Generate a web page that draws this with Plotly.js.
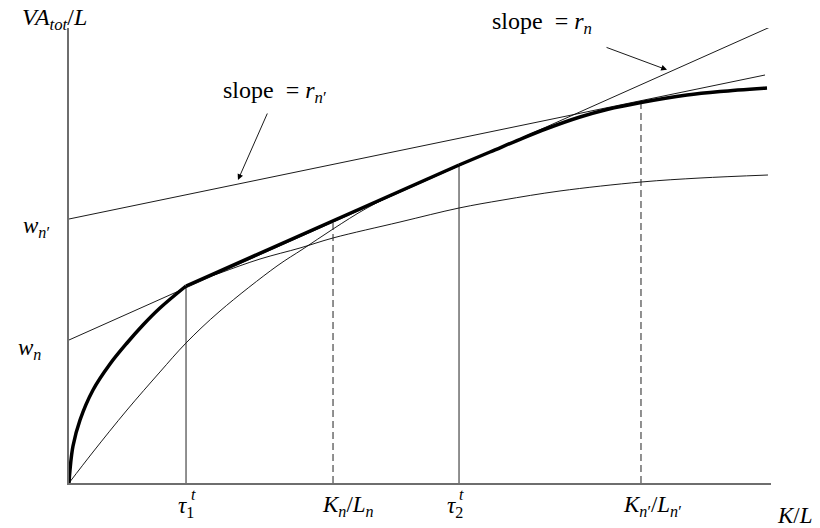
<!DOCTYPE html>
<html>
<head>
<meta charset="utf-8">
<script src="https://cdn.plot.ly/plotly-3.0.1.min.js"></script>
<style>html,body{margin:0;padding:0;background:#fff;}#chart{width:820px;height:528px;}</style>
</head>
<body>
<div id="chart"></div>
<script>
// Technology n production curve (VA/L against K/L)
const fnK = [0, 0.014, 0.057, 0.157, 0.342, 0.584, 0.826, 1.054, 1.296, 1.667, 2.151, 2.721, 3.291, 3.761, 4.715, 5.556, 6.182, 6.994, 8.148, 8.989, 9.957];
const fnV = [0, 0.286, 0.813, 1.385, 2.044, 2.615, 3.077, 3.473, 3.846, 4.330, 4.615, 4.923, 5.165, 5.385, 5.736, 6.044, 6.220, 6.418, 6.615, 6.703, 6.769];
// Technology n' production curve
const fnpK = [0, 0.342, 0.826, 1.296, 1.667, 2.151, 2.963, 3.333, 3.761, 4.245, 4.858, 5.556, 5.997, 6.467, 6.809, 7.279, 7.664, 8.148, 8.803, 9.274, 9.943];
const fnpV = [0, 0.681, 1.604, 2.440, 3.077, 3.780, 4.769, 5.143, 5.582, 6.044, 6.510, 6.989, 7.275, 7.582, 7.791, 8.044, 8.209, 8.363, 8.527, 8.604, 8.681];
// Tangent lines: intercept w_n (slope r_n) and w_n' (slope r_n')
const lineNK = [0, 10.0];
const lineNV = [3.143, 10.03];
const lineNpK = [0, 9.915];
const lineNpV = [5.802, 8.967];
// Marked capital-labour ratios
const tauK = [1.667, 5.556];          // tau1, tau2
const tauTop = [4.330, 6.989];
const ratioK = [3.761, 8.148];        // Kn/Ln, Kn'/Ln'
const ratioTop = [5.736, 8.363];

const thin = {color: '#000', width: 0.9};
const traces = [];
traces.push({x: fnK, y: fnV, mode: 'lines', line: Object.assign({shape: 'spline', smoothing: 1}, thin)});
traces.push({x: fnpK, y: fnpV, mode: 'lines', line: Object.assign({shape: 'spline', smoothing: 1}, thin)});
traces.push({x: lineNK, y: lineNV, mode: 'lines', line: thin});
traces.push({x: lineNpK, y: lineNpV, mode: 'lines', line: thin});
tauK.forEach((k, i) => traces.push({x: [k, k], y: [0, tauTop[i]], mode: 'lines', line: {color: '#222', width: 1}}));
ratioK.forEach((k, i) => traces.push({x: [k, k], y: [0, ratioTop[i]], mode: 'lines', line: {color: '#222', width: 1, dash: '7px,4px'}}));
const i1 = fnK.indexOf(tauK[0]);
const i2 = fnpK.indexOf(tauK[1]);
const thick = {color: '#000', width: 3.5};
traces.push({x: fnK.slice(0, i1 + 1), y: fnV.slice(0, i1 + 1), mode: 'lines', line: Object.assign({shape: 'spline', smoothing: 1}, thick)});
traces.push({x: [fnK[i1], fnpK[i2]], y: [fnV[i1], fnpV[i2]], mode: 'lines', line: thick});
traces.push({x: fnpK.slice(i2), y: fnpV.slice(i2), mode: 'lines', line: Object.assign({shape: 'spline', smoothing: 1}, thick)});

const X0 = 0, X1 = 10, Y0 = 0, Y1 = 10;
const px = x => (x - X0) / (X1 - X0);
const py = y => (y - Y0) / (Y1 - Y0);
const F = 'Liberation Serif, DejaVu Serif, serif';
function lab(x, y, text, size, extra) {
  return Object.assign({x: px(x), y: py(y), xref: 'paper', yref: 'paper', text: text, showarrow: false,
    font: {family: F, size: size || 23, color: '#000'}, xanchor: 'center', yanchor: 'middle'}, extra || {});
}
const annotations = [
  lab(-0.2, 10.2, '<i>VA</i><sub><i>tot</i></sub>/<i>L</i>', 24),
  lab(-0.456, 5.62, '<i>w</i><sub><i>n</i>′</sub>'),
  lab(-0.556, 2.95, '<i>w</i><sub><i>n</i></sub>'),
  lab(tauK[0], -0.52, '<i>τ</i><sub>1</sub>'),
  lab(tauK[0] + 0.1, -0.26, '<i>t</i>', 16),
  lab(tauK[1] - 0.06, -0.52, '<i>τ</i><sub>2</sub>'),
  lab(tauK[1] + 0.04, -0.26, '<i>t</i>', 16),
  lab(3.974, -0.5, '<i>K</i><sub><i>n</i></sub>/<i>L</i><sub><i>n</i></sub>'),
  lab(8.305, -0.5, '<i>K</i><sub><i>n</i>′</sub>/<i>L</i><sub><i>n</i>′</sub>'),
  lab(10.34, -0.72, '<i>K</i>/<i>L</i>'),
  lab(2.934, 8.6, 'slope\u00A0\u00A0= <i>r</i><sub><i>n</i>′</sub>', 24),
  lab(6.738, 10.1, 'slope\u00A0\u00A0= <i>r</i><sub><i>n</i></sub>', 24),
  {x: px(2.407), y: py(6.659), xref: 'paper', yref: 'paper', ax: 30, ay: -68, showarrow: true, arrowhead: 2, arrowsize: 1.3, arrowwidth: 0.9, arrowcolor: '#000', text: ''},
  {x: px(8.519), y: py(9.08), xref: 'paper', yref: 'paper', ax: -62, ay: -23, showarrow: true, arrowhead: 2, arrowsize: 1.3, arrowwidth: 0.9, arrowcolor: '#000', text: ''}
];

const axis = {showgrid: false, zeroline: false, showticklabels: false, ticks: '', showline: true, linecolor: '#6e6e6e', linewidth: 1.6, fixedrange: true};
const layout = {
  width: 820, height: 528,
  margin: {l: 69, r: 49, t: 28, b: 45},
  paper_bgcolor: '#fff', plot_bgcolor: '#fff',
  showlegend: false,
  xaxis: Object.assign({range: [X0, X1]}, axis),
  yaxis: Object.assign({range: [Y0, Y1]}, axis),
  annotations: annotations
};
Plotly.newPlot('chart', traces, layout, {displayModeBar: false, staticPlot: true});
</script>
</body>
</html>
